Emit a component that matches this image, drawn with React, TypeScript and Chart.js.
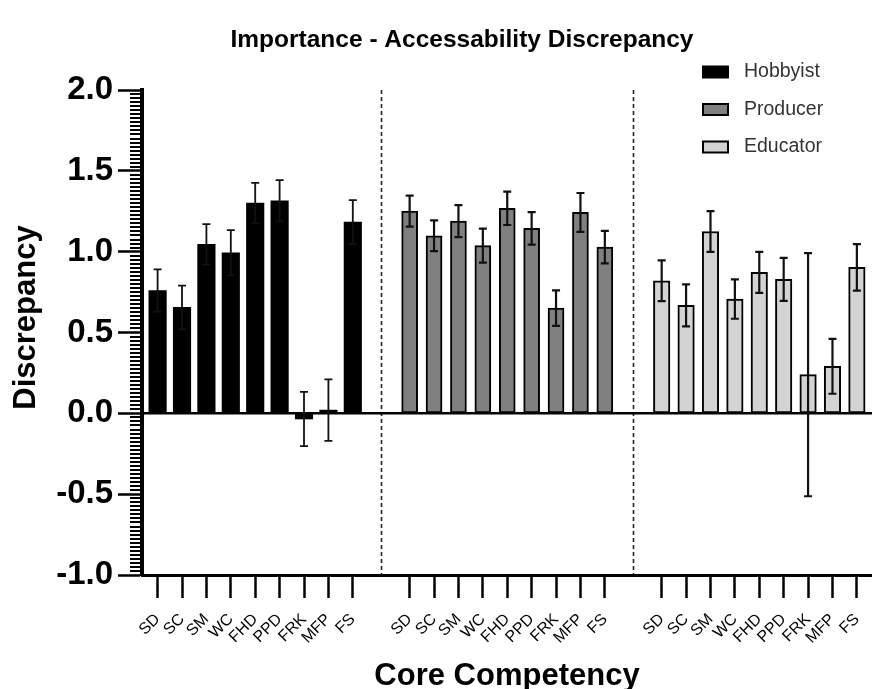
import React, { useEffect, useRef } from 'react';
import { Chart, registerables } from 'chart.js';

Chart.register(...registerables);

// ---------- data ----------
const categories = ['SD', 'SC', 'SM', 'WC', 'FHD', 'PPD', 'FRK', 'MFP', 'FS'];
const seriesNames = ['Hobbyist', 'Producer', 'Educator'];
const hobbyistMeans = [0.76, 0.655, 1.045, 0.993, 1.3, 1.315, -0.035, 0.02, 1.183];
const hobbyistErrors = [0.13, 0.135, 0.125, 0.14, 0.125, 0.128, 0.168, 0.19, 0.136];
const producerMeans = [1.251, 1.098, 1.189, 1.037, 1.268, 1.144, 0.651, 1.243, 1.028];
const producerErrors = [0.096, 0.095, 0.099, 0.105, 0.103, 0.1, 0.11, 0.12, 0.1];
const educatorMeans = [0.82, 0.668, 1.125, 0.707, 0.872, 0.829, 0.239, 0.291, 0.903];
const educatorErrors = [0.126, 0.13, 0.126, 0.122, 0.127, 0.133, 0.752, 0.17, 0.144];
const yTickValues = [-1, -0.5, 0, 0.5, 1, 1.5, 2];
const titleText = 'Importance - Accessability Discrepancy';
const xTitleText = 'Core Competency';
const yTitleText = 'Discrepancy';

const meansBySeries = [hobbyistMeans, producerMeans, educatorMeans];
const errorsBySeries = [hobbyistErrors, producerErrors, educatorErrors];

// ---------- layout / style ----------
const GROUP_STRIDE = 10.33; // category slots between group starts
const FONT = '"Liberation Sans", Arial, Helvetica, sans-serif';
const fills = ['#000000', '#808080', '#d3d3d3'];
const barWidths = [17.5, 16, 16.5];
const errWidths = [1.8, 2.2, 2.2];

const positionOf = (g: number, i: number) => g * GROUP_STRIDE + i;
const allPositions: number[] = [];
meansBySeries.forEach((_, g) => categories.forEach((_, i) => allPositions.push(positionOf(g, i))));
const separators = [1, 2].map((g) => (positionOf(g - 1, categories.length - 1) + positionOf(g, 0)) / 2);

const W = 872;
const H = 689;

const extrasPlugin = {
  id: 'extras',
  beforeDatasetsDraw(chart: any) {
    const { ctx, chartArea, scales } = chart;
    const x = scales.x;
    ctx.save();
    ctx.strokeStyle = '#222';
    ctx.lineWidth = 1.6;
    ctx.setLineDash([4, 3]);
    separators.forEach((s) => {
      const px = Math.round(x.getPixelForValue(s)) + 0.5;
      ctx.beginPath();
      ctx.moveTo(px, chartArea.top);
      ctx.lineTo(px, chartArea.bottom);
      ctx.stroke();
    });
    ctx.restore();
  },
  afterDatasetsDraw(chart: any) {
    const { ctx, chartArea, scales } = chart;
    const y = scales.y;
    // zero line
    ctx.save();
    ctx.strokeStyle = '#000';
    ctx.lineWidth = 2.5;
    const y0 = y.getPixelForValue(0);
    ctx.beginPath();
    ctx.moveTo(chartArea.left, y0);
    ctx.lineTo(chartArea.right, y0);
    ctx.stroke();
    // error bars
    chart.data.datasets.forEach((ds: any, di: number) => {
      const meta = chart.getDatasetMeta(di);
      const errs = errorsBySeries[di];
      meta.data.forEach((bar: any, i: number) => {
        const v = meansBySeries[di][i];
        const e = errs[i];
        const px = bar.x;
        const yt = y.getPixelForValue(v + e);
        const yb = y.getPixelForValue(v - e);
        ctx.strokeStyle = '#111';
        ctx.lineWidth = errWidths[di];
        ctx.beginPath();
        ctx.moveTo(px, yt);
        ctx.lineTo(px, yb);
        ctx.moveTo(px - 4, yt);
        ctx.lineTo(px + 4, yt);
        ctx.moveTo(px - 4, yb);
        ctx.lineTo(px + 4, yb);
        ctx.stroke();
      });
    });
    ctx.restore();
  },
  afterDraw(chart: any) {
    const { ctx, chartArea, scales } = chart;
    const y = scales.y;
    ctx.save();
    // minor ticks on y axis
    ctx.strokeStyle = '#000';
    ctx.lineWidth = 2;
    for (let k = -40; k <= 80; k++) {
      if (k % 20 === 0) continue;
      const py = Math.round(y.getPixelForValue(k * 0.025));
      ctx.beginPath();
      ctx.moveTo(chartArea.left - 12, py);
      ctx.lineTo(chartArea.left, py);
      ctx.stroke();
    }
    // titles
    ctx.fillStyle = '#000';
    ctx.textAlign = 'center';
    ctx.textBaseline = 'middle';
    ctx.font = `bold 24.5px ${FONT}`;
    ctx.fillText(titleText, chart.width / 2 + 26, 40);
    ctx.font = `bold 31px ${FONT}`;
    ctx.fillText(xTitleText, (chartArea.left + chartArea.right) / 2, 676);
    ctx.save();
    ctx.translate(26, (chartArea.top + chartArea.bottom) / 2 - 15);
    ctx.rotate(-Math.PI / 2);
    ctx.font = `bold 31px ${FONT}`;
    ctx.fillText(yTitleText, 0, 0);
    ctx.restore();
    // legend
    chart.data.datasets.forEach((ds: any, di: number) => {
      const cy = 72 + di * 37.5;
      ctx.fillStyle = ds.backgroundColor;
      ctx.fillRect(703, cy - 5.5, 25, 11);
      ctx.strokeStyle = '#000';
      ctx.lineWidth = 2;
      ctx.strokeRect(703, cy - 5.5, 25, 11);
      ctx.fillStyle = '#333';
      ctx.textAlign = 'left';
      ctx.font = `19.5px ${FONT}`;
      ctx.fillText(ds.label, 744, cy);
    });
    ctx.restore();
  },
};

export default function App() {
  const ref = useRef<HTMLCanvasElement | null>(null);
  useEffect(() => {
    if (!ref.current) return;
    const datasets = seriesNames.map((name, g) => ({
      label: name,
      data: categories.map((_, i) => ({ x: positionOf(g, i), y: meansBySeries[g][i] })),
      backgroundColor: fills[g],
      borderColor: '#000',
      borderWidth: g === 0 ? 0 : 2,
      borderSkipped: false,
      barThickness: barWidths[g],
      grouped: false,
    }));
    const chart = new Chart(ref.current, {
      type: 'bar',
      data: { datasets },
      plugins: [extrasPlugin],
      options: {
        animation: false,
        responsive: false,
        layout: { padding: { top: 90, left: 0, right: 0, bottom: 0 } },
        plugins: { legend: { display: false }, title: { display: false }, tooltip: { enabled: false } },
        scales: {
          x: {
            type: 'linear',
            offset: false,
            min: -0.64,
            max: positionOf(2, categories.length - 1) + 0.62,
            grid: {
              offset: false,
              drawOnChartArea: false,
              drawTicks: true,
              tickLength: 23,
              tickWidth: 2.5,
              tickColor: '#000',
            },
            border: { display: true, color: '#000', width: 3 },
            afterBuildTicks: (scale: any) => {
              scale.ticks = allPositions.map((v) => ({ value: v }));
            },
            afterFit: (scale: any) => {
              scale.height = 114;
              scale.paddingLeft = 0;
              scale.paddingRight = 0;
            },
            ticks: {
              autoSkip: false,
              minRotation: 45,
              maxRotation: 45,
              padding: 12,
              color: '#000',
              font: { family: FONT, size: 16 },
              callback: (_v: any, index: number) => categories[index % categories.length],
            },
          },
          y: {
            min: -1,
            max: 2,
            afterBuildTicks: (scale: any) => {
              scale.ticks = yTickValues.map((v) => ({ value: v }));
            },
            afterFit: (scale: any) => {
              scale.width = 142;
            },
            grid: {
              drawOnChartArea: false,
              drawTicks: true,
              tickLength: 24,
              tickWidth: 2.5,
              tickColor: '#000',
            },
            border: { display: true, color: '#000', width: 4 },
            ticks: {
              padding: 5,
              color: '#000',
              font: { family: FONT, size: 33, weight: 'bold' },
              callback: (v: any) => Number(v).toFixed(1),
            },
          },
        },
      } as any,
    });
    return () => chart.destroy();
  }, []);
  return (
    <div style={{ position: 'fixed', left: 0, top: 0, width: W, height: H, background: '#fff' }}>
      <canvas ref={ref} width={W} height={H} style={{ width: W, height: H, display: 'block' }} />
    </div>
  );
}
